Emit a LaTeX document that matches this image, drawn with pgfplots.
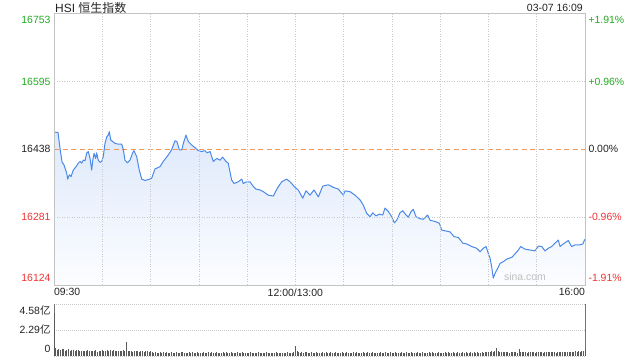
\documentclass[border=0pt]{standalone}
\usepackage{pgfplots}
\pgfplotsset{compat=1.18}
\usepackage{pgfplotstable}
\usepackage{fontspec}
\setmainfont{Liberation Sans}
\newfontfamily\cjk{Noto Sans CJK SC}
\definecolor{upg}{RGB}{34,170,34}
\definecolor{dnr}{RGB}{238,51,51}
\definecolor{linec}{RGB}{74,137,232}
\definecolor{dashc}{RGB}{244,150,85}
\definecolor{gridc}{RGB}{200,200,200}
\definecolor{boxc}{RGB}{195,195,195}
\definecolor{txt}{RGB}{34,34,34}
\definecolor{filltop}{RGB}{222,233,251}
\definecolor{fillbot}{RGB}{252,253,255}

\pgfplotstableread{
t v
0 16478
2.5 16477
3.7 16441
5.0 16409
6.2 16402
7.9 16383
8.5 16369
9.5 16379
10.6 16375
12.0 16390
13.7 16398
15.1 16406
16.2 16410
17.2 16406
18.2 16413
19.3 16412
20.3 16429
21.3 16433
22.4 16417
23.4 16390
24.1 16413
24.9 16429
25.9 16417
26.5 16430
27.5 16413
28.6 16408
29.6 16410
30.6 16421
31.7 16452
32.8 16467
33.7 16471
34.4 16479
35.2 16460
36.5 16456
37.9 16452
40.0 16450
42.1 16450
43.1 16437
44.1 16413
45.6 16407
47.2 16413
48.9 16430
49.7 16435
51.4 16421
53.0 16390
54.5 16369
56.6 16366
58.6 16368
60.7 16371
62.8 16393
64.8 16396
65.9 16398
67.9 16410
71.0 16425
73.1 16437
75.2 16458
76.4 16456
77.9 16437
79.4 16437
80.4 16452
82.0 16471
83.5 16456
85.6 16448
87.6 16442
89.7 16435
91.8 16433
93.8 16435
95.1 16430
97.0 16433
99.0 16410
101.1 16417
103.2 16413
104.8 16420
106.9 16410
108.3 16406
110.4 16367
111.9 16359
114.5 16363
116.7 16369
117.6 16359
119.8 16363
121.8 16363
123.7 16353
125.5 16346
128.0 16344
130.1 16340
133.2 16332
136.3 16330
138.8 16348
141.5 16363
144.6 16369
146.7 16363
149.8 16350
151.8 16344
154.6 16325
156.6 16342
159.1 16332
161.6 16344
164.3 16328
167.0 16353
170.5 16356
173.6 16350
176.7 16346
179.8 16332
180.9 16342
184.0 16340
187.1 16332
190.2 16321
192.2 16309
194.3 16290
196.4 16282
198.1 16291
200.1 16284
202.2 16288
204.3 16286
205.7 16302
207.8 16294
209.9 16282
211.5 16268
213.0 16274
215.0 16291
216.7 16296
218.8 16286
220.2 16281
221.9 16294
223.3 16299
225.0 16282
227.0 16278
229.5 16276
232.2 16286
233.7 16274
236.8 16271
239.5 16267
241.0 16251
243.6 16249
246.1 16247
248.6 16236
251.3 16234
254.0 16221
256.5 16219
259.6 16213
262.7 16209
264.8 16201
266.8 16209
268.5 16213
269.9 16197
271.0 16186
272.0 16166
273.0 16140
274.1 16151
275.8 16163
277.2 16174
279.2 16178
281.4 16184
284.5 16188
286.5 16196
288.6 16205
290.0 16213
292.7 16207
295.8 16205
298.9 16203
301.0 16214
303.1 16213
305.1 16203
307.2 16209
309.3 16213
311.4 16221
313.4 16228
314.5 16213
316.5 16219
319.6 16227
321.7 16213
323.8 16217
326.9 16217
328.6 16219
330.0 16230
}\linedata

\begin{document}
\begin{tikzpicture}
\useasboundingbox (0,0) rectangle (640bp,360bp);
\pgfplotsset{
  every axis/.append style={
    scale only axis, anchor=south west,
    scaled ticks=false,
    tick label style={font=\fontsize{10.5}{12}\selectfont, text=txt},
    major tick length=0, minor tick length=0,
  }
}
% main price axis
\begin{axis}[
  at={(54bp,75bp)}, width=531bp, height=271.7bp,
  xmin=0, xmax=330, ymin=16124, ymax=16753,
  axis on top,
  axis line style={draw=boxc, line width=0.8bp},
  xtick={0,150,330},
  xticklabels={\makebox[0pt][l]{09:30},12:00/13:00,\makebox[0pt][r]{16:00}},
  minor xtick={30,60,90,120,180,210,240,270,300},
  xmajorgrids, xminorgrids,
  major grid style={draw=gridc, line width=0.6bp, dash pattern=on 1bp off 1.5bp},
  minor grid style={draw=gridc, line width=0.6bp, dash pattern=on 1bp off 1.5bp},
  ytick={16124,16281,16438,16595,16753},
  yticklabels={\raisebox{6.8bp}[\height][\depth]{\textcolor{dnr}{16124}},\textcolor{dnr}{16281},16438,\textcolor{upg}{16595},\raisebox{-6.7bp}[\height][\depth]{\textcolor{upg}{16753}}},
  extra y ticks={16281,16595},
  extra y tick labels={},
  extra y tick style={grid=major},
  ytick pos=left, xtick pos=bottom,
]
\addplot[draw=none, top color=filltop, bottom color=fillbot] table[x=t,y=v]{\linedata} -- (axis cs:330,16124) -- (axis cs:0,16124) -- cycle;
\addplot[draw=dashc, line width=1.1bp, dash pattern=on 5bp off 3.5bp] table[row sep=\\]{x y\\0 16438\\330 16438\\};
\addplot[color=linec, line width=1bp, line join=round] table[x=t,y=v]{\linedata};
\end{axis}
% right percent labels
\begin{axis}[
  at={(54bp,75bp)}, width=531bp, height=271.7bp,
  xmin=0, xmax=330, ymin=16124, ymax=16753,
  hide x axis, axis y line*=right, y axis line style={draw=none},
  ytick={16124,16281,16438,16595,16753},
  yticklabels={\raisebox{6.8bp}[\height][\depth]{\textcolor{dnr}{-1.91\%}},\textcolor{dnr}{-0.96\%},0.00\%,\textcolor{upg}{+0.96\%},\raisebox{-6.7bp}[\height][\depth]{\textcolor{upg}{+1.91\%}}},
]
\addplot[draw=none] coordinates {(0,16500)};
\end{axis}
% volume axis
\begin{axis}[
  at={(54bp,4bp)}, width=531bp, height=52bp,
  xmin=0, xmax=330, ymin=0, ymax=4.58,
  clip=false,
  separate axis lines,
  x axis line style={draw=none},
  y axis line style={draw=black!55, line width=0.8bp},
  xtick=\empty,
  ytick={0,2.29,4.58},
  yticklabels={\raisebox{7bp}[\height][\depth]{0},2.29{\cjk 亿},\raisebox{-7bp}[\height][\depth]{4.58{\cjk 亿}}},
  ytick pos=left,
  ymajorgrids,
  major grid style={draw=gridc, line width=0.6bp, dash pattern=on 1bp off 1bp},
]
\addplot[ycomb, draw=black!65, line width=0.8bp] table[row sep=\\, x expr=\coordindex, y=v] {v\\3.80\\0.70\\0.55\\0.62\\0.50\\0.58\\0.66\\0.48\\0.52\\0.60\\0.45\\0.50\\0.55\\0.47\\0.52\\0.50\\
0.44\\0.48\\0.40\\0.46\\0.42\\0.50\\0.45\\0.40\\0.44\\0.48\\0.52\\0.38\\0.45\\0.42\\0.50\\
0.46\\0.40\\0.52\\0.48\\0.55\\0.44\\0.50\\0.42\\0.46\\0.40\\0.48\\0.44\\0.50\\0.42\\
1.20\\
0.45\\0.40\\0.44\\0.38\\0.42\\0.48\\0.40\\0.36\\0.44\\0.40\\0.38\\0.42\\0.46\\0.36\\0.40\\
0.32\\0.28\\0.35\\0.30\\0.26\\0.33\\0.29\\0.31\\0.27\\0.34\\0.30\\0.28\\0.32\\0.26\\0.30\\0.35\\0.29\\0.27\\0.31\\0.33\\0.28\\0.30\\0.26\\0.32\\0.29\\0.34\\0.27\\0.30\\0.31\\0.28\\
0.30\\0.27\\0.33\\0.29\\0.26\\0.31\\0.28\\0.35\\0.30\\0.27\\0.32\\0.29\\0.26\\0.30\\0.33\\0.28\\0.31\\0.27\\0.29\\0.32\\0.30\\0.26\\0.28\\0.31\\0.27\\0.30\\0.33\\0.29\\0.26\\0.30\\
0.28\\0.31\\0.27\\0.30\\0.25\\0.29\\0.32\\0.28\\0.26\\0.30\\0.27\\0.31\\0.29\\0.25\\0.28\\0.30\\0.27\\0.32\\0.26\\0.29\\0.28\\0.30\\0.25\\0.27\\0.31\\0.28\\0.26\\0.30\\0.35\\
0.90\\
0.40\\0.35\\0.30\\0.33\\0.28\\0.31\\0.34\\0.29\\0.27\\0.32\\0.30\\0.28\\0.33\\0.26\\0.30\\0.29\\0.31\\0.27\\0.34\\0.28\\0.30\\0.32\\0.27\\0.29\\0.31\\0.26\\0.30\\0.28\\0.33\\0.29\\
0.27\\0.31\\0.29\\0.26\\0.30\\0.33\\0.28\\0.31\\0.27\\0.30\\0.29\\0.32\\0.26\\0.28\\0.31\\0.30\\0.27\\0.33\\0.29\\0.28\\0.30\\0.26\\0.32\\0.29\\0.27\\0.31\\0.28\\0.30\\0.33\\0.27\\
0.29\\0.31\\0.28\\0.26\\0.30\\0.32\\0.27\\0.29\\0.31\\0.28\\0.30\\0.33\\0.27\\0.29\\0.26\\0.31\\0.30\\0.28\\0.32\\0.29\\0.27\\0.30\\0.31\\0.28\\0.33\\0.29\\0.26\\0.30\\0.32\\0.28\\
0.30\\0.27\\0.31\\0.29\\0.33\\0.28\\0.30\\0.32\\0.27\\0.29\\0.31\\0.30\\0.28\\0.33\\0.29\\0.31\\0.27\\0.30\\0.32\\0.28\\0.31\\0.29\\0.34\\0.30\\0.28\\0.32\\0.30\\0.35\\0.31\\0.33\\
0.36\\0.40\\0.38\\0.45\\0.70\\0.42\\0.38\\0.35\\0.33\\0.36\\0.32\\0.34\\0.30\\0.35\\0.31\\0.33\\0.36\\0.30\\0.62\\0.38\\
0.34\\0.31\\0.35\\0.30\\0.33\\0.37\\0.32\\0.35\\0.30\\0.34\\0.31\\0.36\\0.33\\0.30\\0.35\\0.32\\0.34\\0.31\\0.36\\0.33\\0.35\\0.30\\0.34\\0.37\\0.32\\0.35\\0.33\\0.38\\0.34\\0.36\\0.32\\0.37\\0.35\\0.40\\0.36\\0.42\\0.38\\0.45\\0.40\\0.50\\
};
\end{axis}
\node[anchor=base west, font=\fontsize{12}{14}\selectfont, text=txt, inner sep=0] at (55bp,347.5bp) {HSI {\cjk 恒生指数}};
\node[anchor=base east, font=\fontsize{10.5}{12}\selectfont, text=txt, inner sep=0] at (583bp,348bp) {03-07 16:09};
\node[anchor=center, font=\fontsize{10.5}{12}\selectfont, text=black!25, inner sep=0] at (525bp,83bp) {sina.com};
\end{tikzpicture}
\end{document}
